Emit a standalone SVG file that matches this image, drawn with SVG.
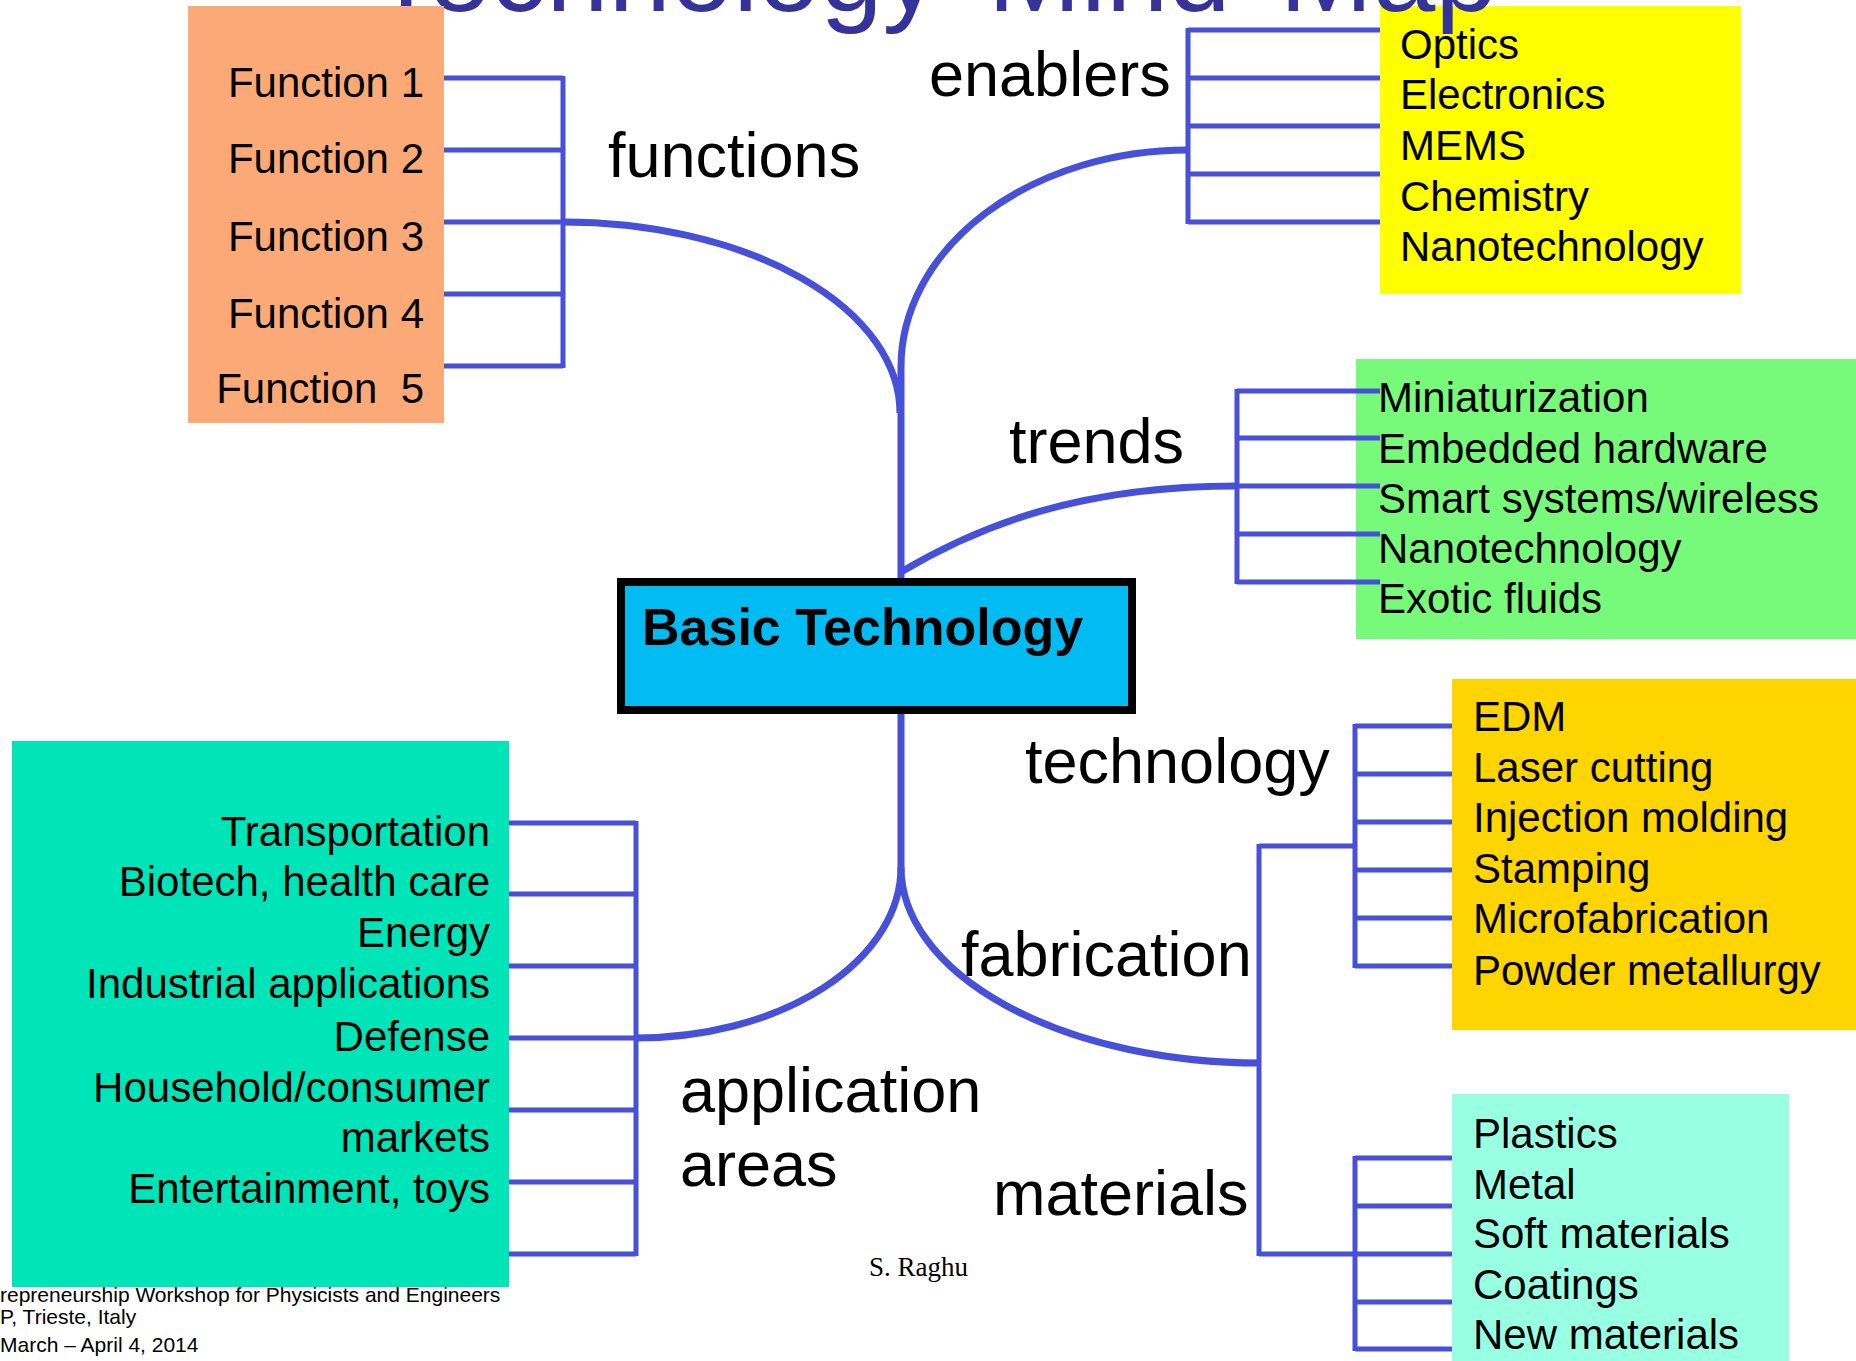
<svg xmlns="http://www.w3.org/2000/svg" width="1856" height="1361" viewBox="0 0 1856 1361">
<style>
text{font-family:"Liberation Sans",Arial,sans-serif;fill:#000}
.item{font-size:42px}
.lbl{font-size:63px}
.end{text-anchor:end}
.br{fill:none;stroke:#4650D8;stroke-width:5}
.cv{fill:none;stroke:#4650D8;stroke-width:7}
.foot{font-size:21px}
</style>
<rect width="1856" height="1361" fill="#fff"/>
<g id="node-enablers">
<rect x="1380" y="6" width="361" height="288" fill="#FFFF00"/>
<text class="item" x="1400" y="59">Optics</text>
<text class="item" x="1400" y="109">Electronics</text>
<text class="item" x="1400" y="160">MEMS</text>
<text class="item" x="1400" y="211">Chemistry</text>
<text class="item" x="1400" y="261">Nanotechnology</text>
</g>
<g id="title">
<text x="372" y="11" font-size="112" word-spacing="18" style="fill:#333399">Technology Mind Map</text>
</g>
<g id="node-functions">
<rect x="188" y="6" width="256" height="417" fill="#FCA978"/>
<text class="item end" x="424" y="97">Function 1</text>
<text class="item end" x="424" y="173">Function 2</text>
<text class="item end" x="424" y="251">Function 3</text>
<text class="item end" x="424" y="328">Function 4</text>
<text class="item end" x="424" y="403" xml:space="preserve">Function  5</text>
</g>
<g id="node-trends">
<rect x="1356" y="359" width="500" height="280" fill="#77FA7A"/>
<text class="item" x="1378" y="412">Miniaturization</text>
<text class="item" x="1378" y="463">Embedded hardware</text>
<text class="item" x="1378" y="513">Smart systems/wireless</text>
<text class="item" x="1378" y="563">Nanotechnology</text>
<text class="item" x="1378" y="613">Exotic fluids</text>
</g>
<g id="node-technology">
<rect x="1452" y="679" width="404" height="351" fill="#FFD500"/>
<text class="item" x="1473" y="731">EDM</text>
<text class="item" x="1473" y="782">Laser cutting</text>
<text class="item" x="1473" y="832">Injection molding</text>
<text class="item" x="1473" y="883">Stamping</text>
<text class="item" x="1473" y="933">Microfabrication</text>
<text class="item" x="1473" y="985">Powder metallurgy</text>
</g>
<g id="node-materials">
<rect x="1452" y="1094" width="337" height="267" fill="#99FFE2"/>
<text class="item" x="1473" y="1148">Plastics</text>
<text class="item" x="1473" y="1199">Metal</text>
<text class="item" x="1473" y="1248">Soft materials</text>
<text class="item" x="1473" y="1299">Coatings</text>
<text class="item" x="1473" y="1349">New materials</text>
</g>
<g id="node-applications">
<rect x="12" y="741" width="497" height="546" fill="#00E5B8"/>
<text class="item end" x="490" y="846">Transportation</text>
<text class="item end" x="490" y="896">Biotech, health care</text>
<text class="item end" x="490" y="947">Energy</text>
<text class="item end" x="490" y="998">Industrial applications</text>
<text class="item end" x="490" y="1051">Defense</text>
<text class="item end" x="490" y="1102">Household/consumer</text>
<text class="item end" x="490" y="1152">markets</text>
<text class="item end" x="490" y="1203">Entertainment, toys</text>
</g>
<g id="connectors">
<path class="br" d="M444,78H563M444,150H563M444,222H563M444,294H563M444,366H563M563,76V368"/>
<path class="cv" d="M563,222A337,191 0 0 1 900,413"/>
<path class="br" d="M1188,30H1380M1188,78H1380M1188,126H1380M1188,174H1380M1188,222H1380M1188,28V224"/>
<path class="cv" d="M1188,150A287,217 0 0 0 901,367"/>
<path class="cv" d="M901,367V582"/>
<path class="br" d="M1237,391H1380M1237,438H1380M1237,486H1380M1237,534H1380M1237,582H1380M1237,389V584"/>
<path class="cv" d="M901,572C980,525 1080,486 1237,486"/>
<path class="cv" d="M901,712V867"/>
<path class="cv" d="M901,867A265,171 0 0 1 636,1038"/>
<path class="cv" d="M901,867A359,196 0 0 0 1260,1063"/>
<path class="br" d="M509,823H636M509,894H636M509,966H636M509,1038H636M509,1110H636M509,1182H636M509,1254H636M636,821V1256"/>
<path class="br" d="M1259,846H1355M1259,1254H1355M1259,844V1256"/>
<path class="br" d="M1355,726H1452M1355,774H1452M1355,822H1452M1355,870H1452M1355,918H1452M1355,966H1452M1355,724V968"/>
<path class="br" d="M1355,1158H1452M1355,1206H1452M1355,1254H1452M1355,1302H1452M1355,1349H1452M1355,1156V1351"/>
</g>
<g id="node-basic">
<rect x="621" y="582" width="511" height="128" fill="#00BCF2" stroke="#000" stroke-width="8"/>
<text x="642" y="645" font-size="52" font-weight="bold">Basic Technology</text>
</g>
<g id="labels">
<text class="lbl" x="608" y="177">functions</text>
<text class="lbl" x="929" y="96">enablers</text>
<text class="lbl" x="1009" y="463">trends</text>
<text class="lbl" x="1025" y="783">technology</text>
<text class="lbl" x="961" y="976">fabrication</text>
<text class="lbl" x="993" y="1215">materials</text>
<text class="lbl" x="680" y="1112">application</text>
<text class="lbl" x="680" y="1186">areas</text>
</g>
<g id="footer">
<text class="foot" x="0" y="1302">repreneurship Workshop for Physicists and Engineers</text>
<text class="foot" x="0" y="1324">P, Trieste, Italy</text>
<text class="foot" x="0" y="1352">March – April 4, 2014</text>
<text x="869" y="1276" font-size="27" style="font-family:'Liberation Serif','Times New Roman',serif">S. Raghu</text>
</g>
</svg>
